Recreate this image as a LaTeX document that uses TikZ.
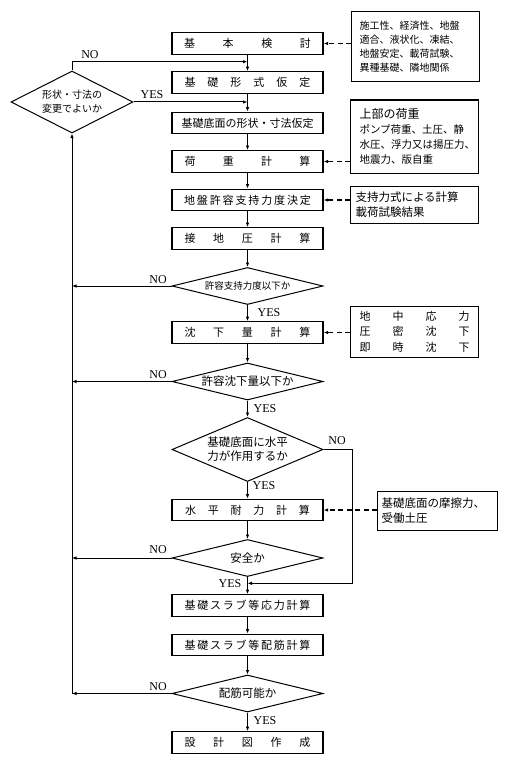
\documentclass[tikz,border=0pt]{standalone}
\usepackage{fontspec}
\setmainfont{Liberation Serif}
\newfontfamily\jp{Noto Sans CJK JP}
\usetikzlibrary{shapes.geometric,arrows.meta}
\tikzset{
  stepbox/.style={draw,line width=1.2pt,minimum width=151pt,minimum height=21.5pt,inner sep=0pt,font=\jp\fontsize{11}{13}\selectfont},
  judge/.style={draw,diamond,line width=1pt,inner sep=0pt,minimum width=151pt,minimum height=37pt,aspect=4,align=center,font=\jp\fontsize{11.5}{14}\selectfont},
  notebox/.style={draw,line width=1.1pt,anchor=north west,inner ysep=0pt,align=left},
  arr/.style={line width=1pt,-{Latex[length=4.5pt,width=3.5pt]}},
  dasharr/.style={arr,line width=1.2pt,dash pattern=on 5pt off 3.5pt},
  yn/.style={font=\fontsize{12}{12}\selectfont}
}
\newcommand{\spreadtxt}[2]{\makebox[#1][s]{#2}}
\begin{document}
\begin{tikzpicture}[x=1pt,y=-1pt]
\useasboundingbox (0,0) rectangle (520,757);

% 主な流れ
\node[stepbox] (kihon) at (247.5,43.5) {\spreadtxt{127pt}{基\hfill 本\hfill 検\hfill 討}};
\node[stepbox] (keishiki) at (247.5,82.5) {\spreadtxt{126pt}{基\hfill 礎\hfill 形\hfill 式\hfill 仮\hfill 定}};
\node[stepbox] (teimen) at (247.5,123) {基礎底面の形状・寸法仮定};
\node[stepbox] (kaju) at (247.5,161.5) {\spreadtxt{126pt}{荷\hfill 重\hfill 計\hfill 算}};
\node[stepbox] (jiban) at (247.5,200) {\spreadtxt{127pt}{地\hfill 盤\hfill 許\hfill 容\hfill 支\hfill 持\hfill 力\hfill 度\hfill 決\hfill 定}};
\node[stepbox] (setchi) at (247.5,238.5) {\spreadtxt{126pt}{接\hfill 地\hfill 圧\hfill 計\hfill 算}};
\node[judge,font=\jp\fontsize{9.5}{12}\selectfont] (shiji) at (247.5,286) {許容支持力度以下か};
\node[stepbox] (chinka) at (247.5,332.5) {\spreadtxt{126pt}{沈\hfill 下\hfill 量\hfill 計\hfill 算}};
\node[judge] (chinkaok) at (247.5,381.5) {許容沈下量以下か};
\node[judge,minimum height=64pt,aspect=2.4] (suiheiq) at (247.5,449.5) {基礎底面に水平\\力が作用するか};
\node[stepbox] (suihei) at (247.5,510) {\spreadtxt{125pt}{水\hfill 平\hfill 耐\hfill 力\hfill 計\hfill 算}};
\node[judge] (anzen) at (247.5,558) {安全か};
\node[stepbox] (ouryoku) at (247.5,605.5) {\spreadtxt{126pt}{基\hfill 礎\hfill ス\hfill ラ\hfill ブ\hfill 等\hfill 応\hfill 力\hfill 計\hfill 算}};
\node[stepbox] (haikin) at (247.5,645) {\spreadtxt{126pt}{基\hfill 礎\hfill ス\hfill ラ\hfill ブ\hfill 等\hfill 配\hfill 筋\hfill 計\hfill 算}};
\node[judge] (kanou) at (247.5,693.5) {配筋可能か};
\node[stepbox] (sekkei) at (247.5,742.5) {\spreadtxt{126pt}{設\hfill 計\hfill 図\hfill 作\hfill 成}};

% 左の判断
\node[judge,minimum width=122pt,minimum height=62pt,aspect=2,font=\jp\fontsize{10}{14}\selectfont] (henkou) at (72,102) {形状・寸法の\\変更でよいか};

% 右の補足
\node[notebox,minimum width=128pt,minimum height=70pt,text width=112pt,inner xsep=8pt,font=\jp\fontsize{10}{14}\selectfont] (noteA) at (351,11) {施工性、経済性、地盤\\適合、液状化、凍結、\\地盤安定、載荷試験、\\異種基礎、隣地関係};
\node[notebox,minimum width=128pt,minimum height=73pt,text width=110pt,inner xsep=9pt,font=\jp\fontsize{10.5}{15}\selectfont] (noteB) at (350,99.5) {{\fontsize{12}{15}\selectfont 上部の荷重}\\ポンプ荷重、土圧、静\\水圧、浮力又は揚圧力、\\地震力、版自重};
\node[notebox,minimum width=128pt,minimum height=36.5pt,text width=118pt,inner xsep=5pt,font=\jp\fontsize{11.5}{14.7}\selectfont] (noteC) at (350,186) {支持力式による計算\\載荷試験結果};
\node[notebox,minimum width=128pt,minimum height=50.5pt,text width=110pt,inner xsep=8pt,font=\jp\fontsize{11}{15.3}\selectfont] (noteD) at (350,306) {\spreadtxt{110pt}{地\hfill 中\hfill 応\hfill 力}\\\spreadtxt{110pt}{圧\hfill 密\hfill 沈\hfill 下}\\\spreadtxt{110pt}{即\hfill 時\hfill 沈\hfill 下}};
\node[notebox,minimum width=120pt,minimum height=38.5pt,text width=112pt,inner xsep=4pt,font=\jp\fontsize{11.5}{15}\selectfont] (noteE) at (377,491) {基礎底面の摩擦力、\\受働土圧};

% 縦の矢印
\draw[arr] (kihon) -- (keishiki);
\draw[arr] (keishiki) -- (teimen);
\draw[arr] (teimen) -- (kaju);
\draw[arr] (kaju) -- (jiban);
\draw[arr] (jiban) -- (setchi);
\draw[arr] (setchi) -- (shiji);
\draw[arr] (shiji) -- (chinka);
\draw[arr] (chinka) -- (chinkaok);
\draw[arr] (chinkaok) -- (suiheiq);
\draw[arr] (suiheiq) -- (suihei);
\draw[arr] (suihei) -- (anzen);
\draw[arr] (anzen) -- (ouryoku);
\draw[arr] (ouryoku) -- (haikin);
\draw[arr] (haikin) -- (kanou);
\draw[arr] (kanou) -- (sekkei);

% 戻りの線
\coordinate (noin) at (247.5,61.7);
\coordinate (spinebot) at (72,693.5);
\coordinate (bypass) at (352.7,583.3);
\draw[arr] (henkou.north) |- (noin);
\draw[arr] (henkou.east) -- (henkou.east -| keishiki.south);
\draw[arr] (shiji.west) -- (shiji.west -| spinebot);
\draw[arr] (chinkaok.west) -- (chinkaok.west -| spinebot);
\draw[arr] (anzen.west) -- (anzen.west -| spinebot);
\draw[arr] (kanou.west) -- (spinebot);
\draw[arr] (spinebot) -- (henkou.south);
\draw[arr] (suiheiq.east) -| (bypass) -- (bypass -| anzen.south);

% 補足の破線
\draw[dasharr] (noteA.west |- kihon) -- (kihon.east);
\draw[dasharr] (noteB.west |- kaju) -- (kaju.east);
\draw[dasharr] (noteC.west |- jiban) -- (jiban.east);
\draw[dasharr] (noteD.west |- chinka) -- (chinka.east);
\draw[dasharr] (noteE.west |- suihei) -- (suihei.east);

% YES / NO
\node[yn] (no0) at (90,55) {NO};
\node[yn] (yes0) at (152,94.5) {YES};
\node[yn] (no1) at (158,280) {NO};
\node[yn] (yes1) at (269,313) {YES};
\node[yn] (no2) at (158,375) {NO};
\node[yn] (yes2) at (265,408.5) {YES};
\node[yn] (no3) at (337,441) {NO};
\node[yn] (yes3) at (264,486) {YES};
\node[yn] (no4) at (158,550) {NO};
\node[yn] (yes4) at (230,583.5) {YES};
\node[yn] (no5) at (158,687) {NO};
\node[yn] (yes5) at (265,721) {YES};
\end{tikzpicture}
\end{document}
